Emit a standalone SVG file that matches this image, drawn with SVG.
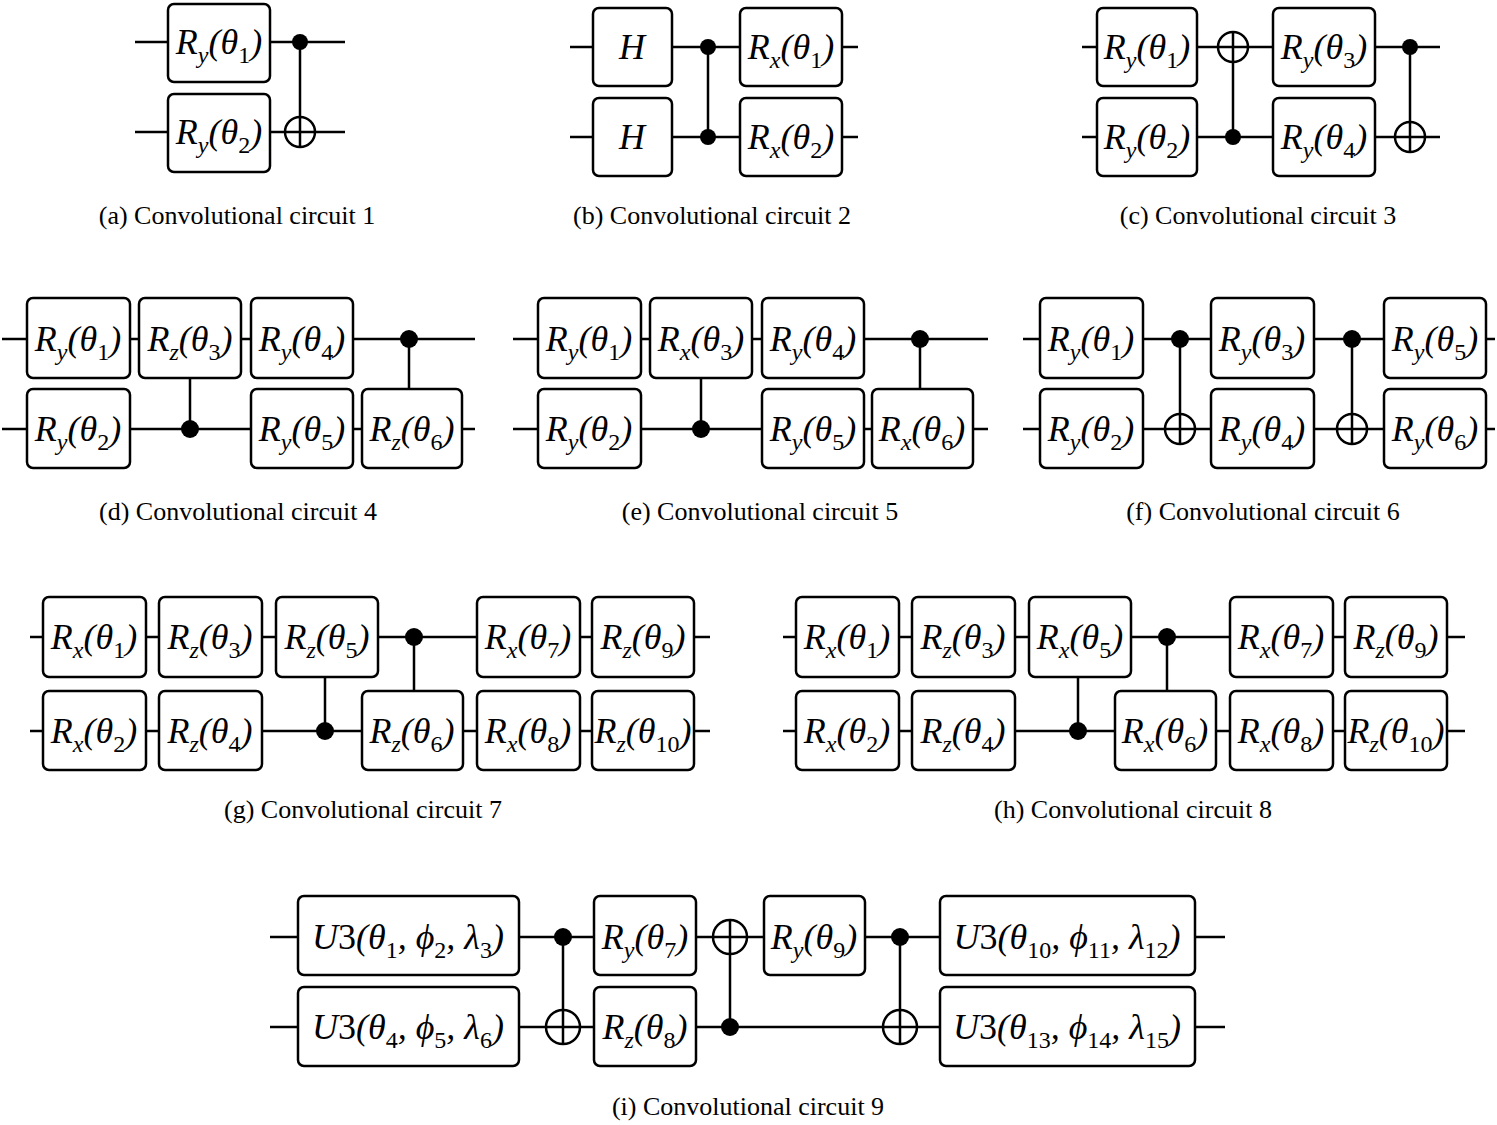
<svg xmlns="http://www.w3.org/2000/svg" width="1497" height="1125" viewBox="0 0 1497 1125">
<style>
.w{stroke:#000;stroke-width:2.5;fill:none}
.b{fill:#fff;stroke:#000;stroke-width:2.5}
.c{fill:#000}
.t{fill:#fff;stroke:#000;stroke-width:2.5}
.g{font-family:"Liberation Serif",serif;font-style:italic;font-size:36px;text-anchor:middle}
.s{font-size:24px}
.n{font-style:normal}
.cap{font-family:"Liberation Serif",serif;font-size:26px;text-anchor:middle}
</style>
<g id="connectors">
<!-- a -->
<path class="w" d="M135 42H345M135 132H345M300 42V132"/>
<!-- b -->
<path class="w" d="M570 47H858M570 137H858M708 47V137"/>
<!-- c -->
<path class="w" d="M1082 47H1440M1082 137H1440M1233 32V137M1410 47V152"/>
<!-- d -->
<path class="w" d="M2 339H475M2 429H475M190 378V429M409 339V389"/>
<!-- e -->
<path class="w" d="M513 339H988M513 429H988M701 378V429M920 339V389"/>
<!-- f -->
<path class="w" d="M1023 339H1495M1023 429H1495M1180 339V444M1352 339V444"/>
<!-- g -->
<path class="w" d="M30 637H710M30 731H710M325 677V731M414 637V691"/>
<!-- h -->
<path class="w" d="M783 637H1465M783 731H1465M1078 677V731M1167 637V691"/>
<!-- i -->
<path class="w" d="M270 937H1225M270 1027H1225M563 937V1042M730 922V1027M900 937V1042"/>
</g>
<g id="a">
<rect class="b" x="168" y="4" width="102" height="78" rx="6"/>
<text class="g" x="219" y="54">R<tspan class="s" dy="9">y</tspan><tspan dy="-9">(θ</tspan><tspan class="s n" dy="9">1</tspan><tspan dy="-9">)</tspan></text>
<rect class="b" x="168" y="94" width="102" height="78" rx="6"/>
<text class="g" x="219" y="144">R<tspan class="s" dy="9">y</tspan><tspan dy="-9">(θ</tspan><tspan class="s n" dy="9">2</tspan><tspan dy="-9">)</tspan></text>
<circle class="c" cx="300" cy="42" r="8"/>
<circle class="t" cx="300" cy="132" r="15"/><path class="w" d="M285 132H315M300 117V147"/>
<text class="cap" x="237" y="224">(a) Convolutional circuit 1</text>
</g>
<g id="b">
<rect class="b" x="593" y="8" width="79" height="78" rx="6"/>
<text class="g" x="632" y="59">H</text>
<rect class="b" x="593" y="98" width="79" height="78" rx="6"/>
<text class="g" x="632" y="149">H</text>
<circle class="c" cx="708" cy="47" r="8"/><circle class="c" cx="708" cy="137" r="8"/>
<rect class="b" x="740" y="8" width="102" height="78" rx="6"/>
<text class="g" x="791" y="59">R<tspan class="s" dy="9">x</tspan><tspan dy="-9">(θ</tspan><tspan class="s n" dy="9">1</tspan><tspan dy="-9">)</tspan></text>
<rect class="b" x="740" y="98" width="102" height="78" rx="6"/>
<text class="g" x="791" y="149">R<tspan class="s" dy="9">x</tspan><tspan dy="-9">(θ</tspan><tspan class="s n" dy="9">2</tspan><tspan dy="-9">)</tspan></text>
<text class="cap" x="712" y="224">(b) Convolutional circuit 2</text>
</g>
<g id="c">
<rect class="b" x="1097" y="8" width="100" height="78" rx="6"/>
<text class="g" x="1147" y="59">R<tspan class="s" dy="9">y</tspan><tspan dy="-9">(θ</tspan><tspan class="s n" dy="9">1</tspan><tspan dy="-9">)</tspan></text>
<rect class="b" x="1097" y="98" width="100" height="78" rx="6"/>
<text class="g" x="1147" y="149">R<tspan class="s" dy="9">y</tspan><tspan dy="-9">(θ</tspan><tspan class="s n" dy="9">2</tspan><tspan dy="-9">)</tspan></text>
<circle class="t" cx="1233" cy="47" r="15"/><path class="w" d="M1218 47H1248M1233 32V62"/>
<circle class="c" cx="1233" cy="137" r="8"/>
<rect class="b" x="1273" y="8" width="102" height="78" rx="6"/>
<text class="g" x="1324" y="59">R<tspan class="s" dy="9">y</tspan><tspan dy="-9">(θ</tspan><tspan class="s n" dy="9">3</tspan><tspan dy="-9">)</tspan></text>
<rect class="b" x="1273" y="98" width="102" height="78" rx="6"/>
<text class="g" x="1324" y="149">R<tspan class="s" dy="9">y</tspan><tspan dy="-9">(θ</tspan><tspan class="s n" dy="9">4</tspan><tspan dy="-9">)</tspan></text>
<circle class="c" cx="1410" cy="47" r="8"/>
<circle class="t" cx="1410" cy="137" r="15"/><path class="w" d="M1395 137H1425M1410 122V152"/>
<text class="cap" x="1258" y="224">(c) Convolutional circuit 3</text>
</g>
<g id="d">
<rect class="b" x="27" y="298" width="103" height="80" rx="6"/>
<text class="g" x="78" y="351">R<tspan class="s" dy="9">y</tspan><tspan dy="-9">(θ</tspan><tspan class="s n" dy="9">1</tspan><tspan dy="-9">)</tspan></text>
<rect class="b" x="139" y="298" width="102" height="80" rx="6"/>
<text class="g" x="190" y="351">R<tspan class="s" dy="9">z</tspan><tspan dy="-9">(θ</tspan><tspan class="s n" dy="9">3</tspan><tspan dy="-9">)</tspan></text>
<rect class="b" x="251" y="298" width="102" height="80" rx="6"/>
<text class="g" x="302" y="351">R<tspan class="s" dy="9">y</tspan><tspan dy="-9">(θ</tspan><tspan class="s n" dy="9">4</tspan><tspan dy="-9">)</tspan></text>
<rect class="b" x="27" y="389" width="103" height="79" rx="6"/>
<text class="g" x="78" y="441">R<tspan class="s" dy="9">y</tspan><tspan dy="-9">(θ</tspan><tspan class="s n" dy="9">2</tspan><tspan dy="-9">)</tspan></text>
<circle class="c" cx="190" cy="429" r="9"/>
<rect class="b" x="251" y="389" width="102" height="79" rx="6"/>
<text class="g" x="302" y="441">R<tspan class="s" dy="9">y</tspan><tspan dy="-9">(θ</tspan><tspan class="s n" dy="9">5</tspan><tspan dy="-9">)</tspan></text>
<rect class="b" x="362" y="389" width="100" height="79" rx="6"/>
<text class="g" x="412" y="441">R<tspan class="s" dy="9">z</tspan><tspan dy="-9">(θ</tspan><tspan class="s n" dy="9">6</tspan><tspan dy="-9">)</tspan></text>
<circle class="c" cx="409" cy="339" r="9"/>
<text class="cap" x="238" y="520">(d) Convolutional circuit 4</text>
</g>
<g id="e">
<rect class="b" x="538" y="298" width="103" height="80" rx="6"/>
<text class="g" x="589" y="351">R<tspan class="s" dy="9">y</tspan><tspan dy="-9">(θ</tspan><tspan class="s n" dy="9">1</tspan><tspan dy="-9">)</tspan></text>
<rect class="b" x="650" y="298" width="102" height="80" rx="6"/>
<text class="g" x="701" y="351">R<tspan class="s" dy="9">x</tspan><tspan dy="-9">(θ</tspan><tspan class="s n" dy="9">3</tspan><tspan dy="-9">)</tspan></text>
<rect class="b" x="762" y="298" width="102" height="80" rx="6"/>
<text class="g" x="813" y="351">R<tspan class="s" dy="9">y</tspan><tspan dy="-9">(θ</tspan><tspan class="s n" dy="9">4</tspan><tspan dy="-9">)</tspan></text>
<rect class="b" x="538" y="389" width="103" height="79" rx="6"/>
<text class="g" x="589" y="441">R<tspan class="s" dy="9">y</tspan><tspan dy="-9">(θ</tspan><tspan class="s n" dy="9">2</tspan><tspan dy="-9">)</tspan></text>
<circle class="c" cx="701" cy="429" r="9"/>
<rect class="b" x="762" y="389" width="102" height="79" rx="6"/>
<text class="g" x="813" y="441">R<tspan class="s" dy="9">y</tspan><tspan dy="-9">(θ</tspan><tspan class="s n" dy="9">5</tspan><tspan dy="-9">)</tspan></text>
<rect class="b" x="872" y="389" width="101" height="79" rx="6"/>
<text class="g" x="922" y="441">R<tspan class="s" dy="9">x</tspan><tspan dy="-9">(θ</tspan><tspan class="s n" dy="9">6</tspan><tspan dy="-9">)</tspan></text>
<circle class="c" cx="920" cy="339" r="9"/>
<text class="cap" x="760" y="520">(e) Convolutional circuit 5</text>
</g>
<g id="f">
<rect class="b" x="1040" y="298" width="103" height="80" rx="6"/>
<text class="g" x="1091" y="351">R<tspan class="s" dy="9">y</tspan><tspan dy="-9">(θ</tspan><tspan class="s n" dy="9">1</tspan><tspan dy="-9">)</tspan></text>
<rect class="b" x="1040" y="389" width="103" height="79" rx="6"/>
<text class="g" x="1091" y="441">R<tspan class="s" dy="9">y</tspan><tspan dy="-9">(θ</tspan><tspan class="s n" dy="9">2</tspan><tspan dy="-9">)</tspan></text>
<circle class="c" cx="1180" cy="339" r="9"/>
<circle class="t" cx="1180" cy="429" r="15"/><path class="w" d="M1165 429H1195M1180 414V444"/>
<rect class="b" x="1211" y="298" width="103" height="80" rx="6"/>
<text class="g" x="1262" y="351">R<tspan class="s" dy="9">y</tspan><tspan dy="-9">(θ</tspan><tspan class="s n" dy="9">3</tspan><tspan dy="-9">)</tspan></text>
<rect class="b" x="1211" y="389" width="103" height="79" rx="6"/>
<text class="g" x="1262" y="441">R<tspan class="s" dy="9">y</tspan><tspan dy="-9">(θ</tspan><tspan class="s n" dy="9">4</tspan><tspan dy="-9">)</tspan></text>
<circle class="c" cx="1352" cy="339" r="9"/>
<circle class="t" cx="1352" cy="429" r="15"/><path class="w" d="M1337 429H1367M1352 414V444"/>
<rect class="b" x="1384" y="298" width="102" height="80" rx="6"/>
<text class="g" x="1435" y="351">R<tspan class="s" dy="9">y</tspan><tspan dy="-9">(θ</tspan><tspan class="s n" dy="9">5</tspan><tspan dy="-9">)</tspan></text>
<rect class="b" x="1384" y="389" width="102" height="79" rx="6"/>
<text class="g" x="1435" y="441">R<tspan class="s" dy="9">y</tspan><tspan dy="-9">(θ</tspan><tspan class="s n" dy="9">6</tspan><tspan dy="-9">)</tspan></text>
<text class="cap" x="1263" y="520">(f) Convolutional circuit 6</text>
</g>
<g id="g">
<rect class="b" x="43" y="597" width="103" height="80" rx="6"/>
<text class="g" x="94" y="649">R<tspan class="s" dy="9">x</tspan><tspan dy="-9">(θ</tspan><tspan class="s n" dy="9">1</tspan><tspan dy="-9">)</tspan></text>
<rect class="b" x="159" y="597" width="103" height="80" rx="6"/>
<text class="g" x="210" y="649">R<tspan class="s" dy="9">z</tspan><tspan dy="-9">(θ</tspan><tspan class="s n" dy="9">3</tspan><tspan dy="-9">)</tspan></text>
<rect class="b" x="276" y="597" width="102" height="80" rx="6"/>
<text class="g" x="327" y="649">R<tspan class="s" dy="9">z</tspan><tspan dy="-9">(θ</tspan><tspan class="s n" dy="9">5</tspan><tspan dy="-9">)</tspan></text>
<rect class="b" x="43" y="691" width="103" height="79" rx="6"/>
<text class="g" x="94" y="743">R<tspan class="s" dy="9">x</tspan><tspan dy="-9">(θ</tspan><tspan class="s n" dy="9">2</tspan><tspan dy="-9">)</tspan></text>
<rect class="b" x="159" y="691" width="103" height="79" rx="6"/>
<text class="g" x="210" y="743">R<tspan class="s" dy="9">z</tspan><tspan dy="-9">(θ</tspan><tspan class="s n" dy="9">4</tspan><tspan dy="-9">)</tspan></text>
<circle class="c" cx="325" cy="731" r="9"/>
<rect class="b" x="362" y="691" width="101" height="79" rx="6"/>
<text class="g" x="412" y="743">R<tspan class="s" dy="9">z</tspan><tspan dy="-9">(θ</tspan><tspan class="s n" dy="9">6</tspan><tspan dy="-9">)</tspan></text>
<circle class="c" cx="414" cy="637" r="9"/>
<rect class="b" x="477" y="597" width="103" height="80" rx="6"/>
<text class="g" x="528" y="649">R<tspan class="s" dy="9">x</tspan><tspan dy="-9">(θ</tspan><tspan class="s n" dy="9">7</tspan><tspan dy="-9">)</tspan></text>
<rect class="b" x="592" y="597" width="102" height="80" rx="6"/>
<text class="g" x="643" y="649">R<tspan class="s" dy="9">z</tspan><tspan dy="-9">(θ</tspan><tspan class="s n" dy="9">9</tspan><tspan dy="-9">)</tspan></text>
<rect class="b" x="477" y="691" width="103" height="79" rx="6"/>
<text class="g" x="528" y="743">R<tspan class="s" dy="9">x</tspan><tspan dy="-9">(θ</tspan><tspan class="s n" dy="9">8</tspan><tspan dy="-9">)</tspan></text>
<rect class="b" x="592" y="691" width="102" height="79" rx="6"/>
<text class="g" x="643" y="743">R<tspan class="s" dy="9">z</tspan><tspan dy="-9">(θ</tspan><tspan class="s n" dy="9">10</tspan><tspan dy="-9">)</tspan></text>
<text class="cap" x="363" y="818">(g) Convolutional circuit 7</text>
</g>
<g id="h">
<rect class="b" x="796" y="597" width="103" height="80" rx="6"/>
<text class="g" x="847" y="649">R<tspan class="s" dy="9">x</tspan><tspan dy="-9">(θ</tspan><tspan class="s n" dy="9">1</tspan><tspan dy="-9">)</tspan></text>
<rect class="b" x="912" y="597" width="103" height="80" rx="6"/>
<text class="g" x="963" y="649">R<tspan class="s" dy="9">z</tspan><tspan dy="-9">(θ</tspan><tspan class="s n" dy="9">3</tspan><tspan dy="-9">)</tspan></text>
<rect class="b" x="1029" y="597" width="102" height="80" rx="6"/>
<text class="g" x="1080" y="649">R<tspan class="s" dy="9">x</tspan><tspan dy="-9">(θ</tspan><tspan class="s n" dy="9">5</tspan><tspan dy="-9">)</tspan></text>
<rect class="b" x="796" y="691" width="103" height="79" rx="6"/>
<text class="g" x="847" y="743">R<tspan class="s" dy="9">x</tspan><tspan dy="-9">(θ</tspan><tspan class="s n" dy="9">2</tspan><tspan dy="-9">)</tspan></text>
<rect class="b" x="912" y="691" width="103" height="79" rx="6"/>
<text class="g" x="963" y="743">R<tspan class="s" dy="9">z</tspan><tspan dy="-9">(θ</tspan><tspan class="s n" dy="9">4</tspan><tspan dy="-9">)</tspan></text>
<circle class="c" cx="1078" cy="731" r="9"/>
<rect class="b" x="1115" y="691" width="101" height="79" rx="6"/>
<text class="g" x="1165" y="743">R<tspan class="s" dy="9">x</tspan><tspan dy="-9">(θ</tspan><tspan class="s n" dy="9">6</tspan><tspan dy="-9">)</tspan></text>
<circle class="c" cx="1167" cy="637" r="9"/>
<rect class="b" x="1230" y="597" width="103" height="80" rx="6"/>
<text class="g" x="1281" y="649">R<tspan class="s" dy="9">x</tspan><tspan dy="-9">(θ</tspan><tspan class="s n" dy="9">7</tspan><tspan dy="-9">)</tspan></text>
<rect class="b" x="1345" y="597" width="102" height="80" rx="6"/>
<text class="g" x="1396" y="649">R<tspan class="s" dy="9">z</tspan><tspan dy="-9">(θ</tspan><tspan class="s n" dy="9">9</tspan><tspan dy="-9">)</tspan></text>
<rect class="b" x="1230" y="691" width="103" height="79" rx="6"/>
<text class="g" x="1281" y="743">R<tspan class="s" dy="9">x</tspan><tspan dy="-9">(θ</tspan><tspan class="s n" dy="9">8</tspan><tspan dy="-9">)</tspan></text>
<rect class="b" x="1345" y="691" width="102" height="79" rx="6"/>
<text class="g" x="1396" y="743">R<tspan class="s" dy="9">z</tspan><tspan dy="-9">(θ</tspan><tspan class="s n" dy="9">10</tspan><tspan dy="-9">)</tspan></text>
<text class="cap" x="1133" y="818">(h) Convolutional circuit 8</text>
</g>
<g id="i">
<rect class="b" x="298" y="896" width="221" height="79" rx="6"/>
<text class="g" x="408" y="949">U<tspan class="n">3</tspan>(θ<tspan class="s n" dy="9">1</tspan><tspan dy="-9">, ϕ</tspan><tspan class="s n" dy="9">2</tspan><tspan dy="-9">, λ</tspan><tspan class="s n" dy="9">3</tspan><tspan dy="-9">)</tspan></text>
<rect class="b" x="298" y="987" width="221" height="79" rx="6"/>
<text class="g" x="408" y="1039">U<tspan class="n">3</tspan>(θ<tspan class="s n" dy="9">4</tspan><tspan dy="-9">, ϕ</tspan><tspan class="s n" dy="9">5</tspan><tspan dy="-9">, λ</tspan><tspan class="s n" dy="9">6</tspan><tspan dy="-9">)</tspan></text>
<circle class="c" cx="563" cy="937" r="9"/>
<circle class="t" cx="563" cy="1027" r="17"/><path class="w" d="M546 1027H580M563 1010V1044"/>
<rect class="b" x="594" y="896" width="102" height="79" rx="6"/>
<text class="g" x="645" y="949">R<tspan class="s" dy="9">y</tspan><tspan dy="-9">(θ</tspan><tspan class="s n" dy="9">7</tspan><tspan dy="-9">)</tspan></text>
<rect class="b" x="594" y="987" width="102" height="79" rx="6"/>
<text class="g" x="645" y="1039">R<tspan class="s" dy="9">z</tspan><tspan dy="-9">(θ</tspan><tspan class="s n" dy="9">8</tspan><tspan dy="-9">)</tspan></text>
<circle class="t" cx="730" cy="937" r="17"/><path class="w" d="M713 937H747M730 920V954"/>
<circle class="c" cx="730" cy="1027" r="9"/>
<rect class="b" x="764" y="896" width="101" height="79" rx="6"/>
<text class="g" x="814" y="949">R<tspan class="s" dy="9">y</tspan><tspan dy="-9">(θ</tspan><tspan class="s n" dy="9">9</tspan><tspan dy="-9">)</tspan></text>
<circle class="c" cx="900" cy="937" r="9"/>
<circle class="t" cx="900" cy="1027" r="17"/><path class="w" d="M883 1027H917M900 1010V1044"/>
<rect class="b" x="940" y="896" width="255" height="79" rx="6"/>
<text class="g" x="1067" y="949">U<tspan class="n">3</tspan>(θ<tspan class="s n" dy="9">10</tspan><tspan dy="-9">, ϕ</tspan><tspan class="s n" dy="9">11</tspan><tspan dy="-9">, λ</tspan><tspan class="s n" dy="9">12</tspan><tspan dy="-9">)</tspan></text>
<rect class="b" x="940" y="987" width="255" height="79" rx="6"/>
<text class="g" x="1067" y="1039">U<tspan class="n">3</tspan>(θ<tspan class="s n" dy="9">13</tspan><tspan dy="-9">, ϕ</tspan><tspan class="s n" dy="9">14</tspan><tspan dy="-9">, λ</tspan><tspan class="s n" dy="9">15</tspan><tspan dy="-9">)</tspan></text>
<text class="cap" x="748" y="1115">(i) Convolutional circuit 9</text>
</g>
</svg>
